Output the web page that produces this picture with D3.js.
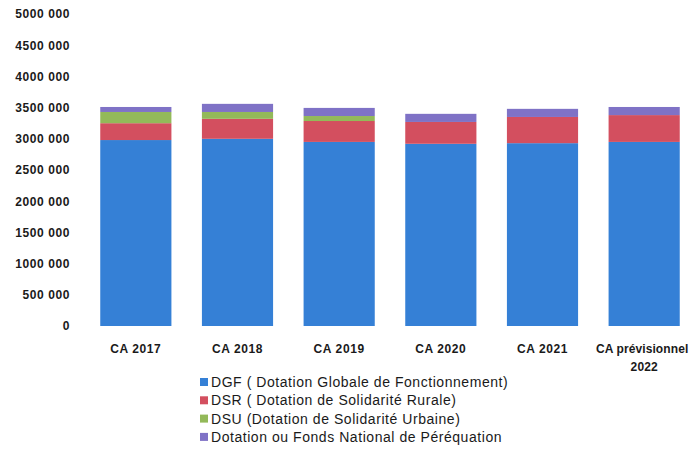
<!DOCTYPE html>
<html lang="fr">
<head>
  <meta charset="UTF-8">
  <title>Dotations</title>
  <style>
    html, body { margin: 0; background: #fff; }
    text { font-family: 'Liberation Sans', Arial, sans-serif; fill: #1a1a1a; }
  </style>
  <script src="https://cdn.jsdelivr.net/npm/d3@7"></script>
</head>
<body>
  <script>
    const width = 692
    const height = 453

    // données
    const categories = ['CA 2017', 'CA 2018', 'CA 2019', 'CA 2020', 'CA 2021', 'CA prévisionnel\n2022']
    const dgf = [2980000, 3000000, 2950000, 2920000, 2930000, 2950000]
    const dsr = [270000, 320000, 335000, 350000, 420000, 430000]
    const dsu = [180000, 110000, 80000, 0, 0, 0]
    const fnp = [80000, 130000, 130000, 130000, 130000, 130000]
    const seriesNames = [
      'DGF ( Dotation Globale de Fonctionnement)',
      'DSR ( Dotation de Solidarité Rurale)',
      'DSU (Dotation de Solidarité Urbaine)',
      'Dotation ou Fonds National de Péréquation'
    ]
    const colors = ['#3580d6', '#d34f5f', '#93b959', '#7f72c6']
    const yTicks = [0, 500000, 1000000, 1500000, 2000000, 2500000, 3000000, 3500000, 4000000, 4500000, 5000000]
    const yTickLabels = ['0', '500 000', '1000 000', '1500 000', '2000 000', '2500 000', '3000 000', '3500 000', '4000 000', '4500 000', '5000 000']

    const margin = { left: 85, right: -3, top: 14, bottom: 127 }

    const svg = d3.select('body').append('svg')
      .attr('width', width)
      .attr('height', height)

    const rows = categories.map((c, i) => ({ cat: c, s0: dgf[i], s1: dsr[i], s2: dsu[i], s3: fnp[i] }))
    const stack = d3.stack().keys(['s0', 's1', 's2', 's3'])
    const layers = stack(rows)

    const x = d3.scaleBand()
      .domain(categories)
      .range([margin.left, width - margin.right])
      .paddingInner(0.3)
      .paddingOuter(0.15)

    const y = d3.scaleLinear()
      .domain([0, 5000000])
      .range([height - margin.bottom, margin.top])

    // axe Y (texte seulement)
    const yAxis = d3.axisLeft(y)
      .tickValues(yTicks)
      .tickFormat((d, i) => yTickLabels[i])
      .tickSize(0)
      .tickPadding(0)
    const gy = svg.append('g')
      .attr('transform', 'translate(70,0)')
      .call(yAxis)
    gy.select('.domain').remove()
    gy.selectAll('text')
      .attr('font-size', 12)
      .attr('font-weight', 'bold')
      .attr('letter-spacing', 0.6)
      .attr('font-family', null)
      .attr('fill', '#1a1a1a')

    // barres empilées
    svg.selectAll('.layer')
      .data(layers)
      .enter()
      .append('g')
      .attr('class', 'layer')
      .attr('fill', (d, i) => colors[i])
      .selectAll('rect')
      .data(d => d)
      .enter()
      .append('rect')
      .attr('x', d => x(d.data.cat))
      .attr('y', d => y(d[1]))
      .attr('width', x.bandwidth())
      .attr('height', d => y(d[0]) - y(d[1]))

    // axe X
    const xAxis = d3.axisBottom(x).tickSize(0).tickPadding(0).tickFormat('')
    const gx = svg.append('g')
      .attr('transform', `translate(0, ${height - margin.bottom})`)
      .call(xAxis)
    gx.select('.domain').remove()
    gx.selectAll('.tick').each(function (d) {
      const lines = d.split('\n')
      const t = d3.select(this).append('text')
        .attr('text-anchor', 'middle')
        .attr('font-size', 12)
        .attr('font-weight', 'bold')
        .attr('letter-spacing', lines.length > 1 ? 0.1 : 0.6)
        .attr('fill', '#1a1a1a')
      lines.forEach((line, i) => {
        t.append('tspan').attr('x', i === 0 && lines.length > 1 ? -2 : 0).attr('y', 27 + i * 18).text(line)
      })
    })

    // légende
    const legend = svg.append('g').attr('transform', 'translate(200, 382)')
    const items = legend.selectAll('g')
      .data(seriesNames)
      .enter()
      .append('g')
      .attr('transform', (d, i) => `translate(0, ${i * 18.3})`)
    items.append('rect')
      .attr('x', 0)
      .attr('y', -4)
      .attr('width', 8)
      .attr('height', 8)
      .attr('fill', (d, i) => colors[i])
    items.append('text')
      .attr('x', 11)
      .attr('y', 5)
      .attr('font-size', 14)
      .attr('letter-spacing', 0.55)
      .attr('fill', '#222')
      .text(d => d)
  </script>
</body>
</html>
